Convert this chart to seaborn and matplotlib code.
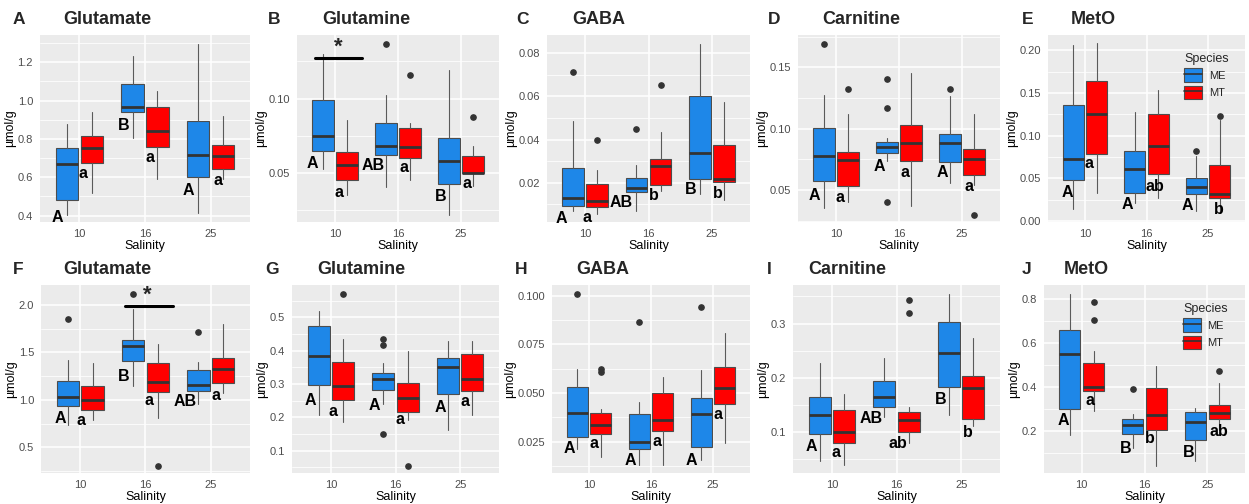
import numpy as np
import matplotlib
matplotlib.use('Agg')
import matplotlib.pyplot as plt
from matplotlib.patches import Patch
from matplotlib.lines import Line2D
import seaborn as sns

# categories
salinity = ['10', '16', '25']
species = ['ME', 'MT']
species_colors = ['#1E87E8', '#FF0000']

panel_letters = ['A', 'B', 'C', 'D', 'E', 'F', 'G', 'H', 'I', 'J']
panel_titles = ['Glutamate', 'Glutamine', 'GABA', 'Carnitine', 'MetO',
                'Glutamate', 'Glutamine', 'GABA', 'Carnitine', 'MetO']

# box stats, rows = ME10, MT10, ME16, MT16, ME25, MT25 ; [low, q1, median, q3, high]
glutamate_1 = [[0.405, 0.480, 0.667, 0.752, 0.876],
               [0.518, 0.676, 0.752, 0.813, 0.938],
               [0.805, 0.940, 0.969, 1.089, 1.231],
               [0.593, 0.756, 0.841, 0.969, 1.049],
               [0.416, 0.600, 0.718, 0.893, 1.295],
               [0.591, 0.643, 0.711, 0.766, 0.919]]
glutamine_1 = [[0.0529, 0.0647, 0.0750, 0.0993, 0.1299],
               [0.0350, 0.0451, 0.0554, 0.0641, 0.0859],
               [0.0406, 0.0621, 0.0683, 0.0835, 0.1025],
               [0.0451, 0.0603, 0.0672, 0.0801, 0.0839],
               [0.0221, 0.0426, 0.0578, 0.0737, 0.1188],
               [0.0413, 0.0500, 0.0500, 0.0616, 0.0681]]
gaba_1 = [[0.0067, 0.0092, 0.0131, 0.0267, 0.0488],
          [0.0054, 0.0087, 0.0115, 0.0195, 0.0261],
          [0.0069, 0.0158, 0.0175, 0.0224, 0.0284],
          [0.0161, 0.0191, 0.0277, 0.0308, 0.0437],
          [0.0149, 0.0217, 0.0339, 0.0603, 0.0842],
          [0.0121, 0.0205, 0.0217, 0.0376, 0.0576]]
carnitine_1 = [[0.0356, 0.0573, 0.0779, 0.1007, 0.1275],
               [0.0402, 0.0530, 0.0744, 0.0814, 0.1121],
               [0.0736, 0.0806, 0.0847, 0.0888, 0.0927],
               [0.0370, 0.0733, 0.0882, 0.1034, 0.1451],
               [0.0557, 0.0730, 0.0882, 0.0958, 0.1264],
               [0.0538, 0.0619, 0.0752, 0.0831, 0.1121]]
meto_1 = [[0.0148, 0.0479, 0.0732, 0.1362, 0.2062],
          [0.0331, 0.0790, 0.1257, 0.1646, 0.2082],
          [0.0214, 0.0335, 0.0607, 0.0817, 0.1284],
          [0.0276, 0.0549, 0.0875, 0.1249, 0.1537],
          [0.0117, 0.0323, 0.0401, 0.0506, 0.0763],
          [0.0090, 0.0276, 0.0315, 0.0661, 0.1179]]
glutamate_2 = [[0.732, 0.937, 1.032, 1.201, 1.419],
               [0.792, 0.891, 0.996, 1.148, 1.391],
               [1.144, 1.408, 1.570, 1.630, 1.954],
               [0.813, 1.085, 1.190, 1.391, 1.585],
               [0.961, 1.095, 1.155, 1.313, 1.401],
               [1.074, 1.173, 1.324, 1.437, 1.799]]
glutamine_2 = [[0.206, 0.296, 0.384, 0.473, 0.520],
               [0.186, 0.251, 0.293, 0.367, 0.434],
               [0.239, 0.281, 0.316, 0.334, 0.362],
               [0.191, 0.216, 0.259, 0.304, 0.400],
               [0.161, 0.269, 0.352, 0.377, 0.429],
               [0.207, 0.280, 0.316, 0.391, 0.429]]
gaba_2 = [[0.0211, 0.0274, 0.0398, 0.0531, 0.0621],
          [0.0171, 0.0288, 0.0336, 0.0399, 0.0420],
          [0.0128, 0.0212, 0.0248, 0.0391, 0.0453],
          [0.0128, 0.0303, 0.0360, 0.0502, 0.0583],
          [0.0154, 0.0223, 0.0391, 0.0475, 0.0620],
          [0.0245, 0.0442, 0.0526, 0.0634, 0.0810]]
carnitine_2 = [[0.048, 0.096, 0.132, 0.165, 0.227],
               [0.039, 0.080, 0.100, 0.141, 0.170],
               [0.128, 0.147, 0.164, 0.194, 0.236],
               [0.080, 0.101, 0.122, 0.138, 0.147],
               [0.131, 0.184, 0.245, 0.302, 0.355],
               [0.112, 0.125, 0.182, 0.204, 0.274]]
meto_2 = [[0.185, 0.303, 0.550, 0.662, 0.823],
          [0.291, 0.382, 0.402, 0.508, 0.565],
          [0.126, 0.186, 0.227, 0.258, 0.280],
          [0.045, 0.208, 0.273, 0.398, 0.495],
          [0.064, 0.162, 0.242, 0.288, 0.306],
          [0.205, 0.255, 0.285, 0.321, 0.420]]

# outliers, same order of boxes
glutamate_1_out = [[], [], [], [], [], []]
glutamine_1_out = [[], [], [0.1366], [0.1156], [], [0.0873]]
gaba_1_out = [[0.0714], [0.0400], [0.0449], [0.0654], [], []]
carnitine_1_out = [[0.169], [0.1327], [0.1408, 0.1172, 0.0400], [], [0.1324], [0.0300]]
meto_1_out = [[], [], [], [], [0.0821], [0.1230]]
glutamate_2_out = [[1.856], [], [2.116], [0.306], [1.715], []]
glutamine_2_out = [[], [0.569], [0.435, 0.416, 0.151], [0.055], [], []]
gaba_2_out = [[0.1007], [0.0624, 0.0607], [0.0866], [], [0.0943], []]
carnitine_2_out = [[], [], [], [0.344, 0.320], [], []]
meto_2_out = [[], [0.786, 0.705], [0.392], [], [], [0.474]]

# group letters
glutamate_1_grp = ['A', 'a', 'B', 'a', 'A', 'a']
glutamine_1_grp = ['A', 'a', 'AB', 'a', 'B', 'a']
gaba_1_grp = ['A', 'a', 'AB', 'b', 'B', 'b']
carnitine_1_grp = ['A', 'a', 'A', 'a', 'A', 'a']
meto_1_grp = ['A', 'a', 'A', 'ab', 'A', 'b']
glutamate_2_grp = ['A', 'a', 'B', 'a', 'AB', 'a']
glutamine_2_grp = ['A', 'a', 'A', 'a', 'A', 'a']
gaba_2_grp = ['A', 'a', 'A', 'a', 'A', 'a']
carnitine_2_grp = ['A', 'a', 'AB', 'ab', 'B', 'b']
meto_2_grp = ['A', 'a', 'B', 'b', 'B', 'ab']

# y tick labels
ticks_list = [['0.4', '0.6', '0.8', '1.0', '1.2'],
              ['0.05', '0.10'],
              ['0.02', '0.04', '0.06', '0.08'],
              ['0.05', '0.10', '0.15'],
              ['0.00', '0.05', '0.10', '0.15', '0.20'],
              ['0.5', '1.0', '1.5', '2.0'],
              ['0.1', '0.2', '0.3', '0.4', '0.5'],
              ['0.025', '0.050', '0.075', '0.100'],
              ['0.1', '0.2', '0.3'],
              ['0.2', '0.4', '0.6', '0.8']]

stats_all = [glutamate_1, glutamine_1, gaba_1, carnitine_1, meto_1,
             glutamate_2, glutamine_2, gaba_2, carnitine_2, meto_2]
out_all = [glutamate_1_out, glutamine_1_out, gaba_1_out, carnitine_1_out, meto_1_out,
           glutamate_2_out, glutamine_2_out, gaba_2_out, carnitine_2_out, meto_2_out]
grp_all = [glutamate_1_grp, glutamine_1_grp, gaba_1_grp, carnitine_1_grp, meto_1_grp,
           glutamate_2_grp, glutamine_2_grp, gaba_2_grp, carnitine_2_grp, meto_2_grp]

# layout (pixels) ---------------------------------------------------------
W, H = 1249, 504
ax_px = [(40, 250, 35, 222), (297, 499, 35, 222), (547, 750, 35, 222),
         (798, 1000, 35, 222), (1048, 1245, 35, 222),
         (41, 250, 285, 473), (292, 499, 285, 473), (552, 750, 285, 473),
         (793, 1000, 285, 473), (1044, 1245, 285, 473)]
ylims = [(0.367, 1.342), (0.0172, 0.1426), (0.0018, 0.0884), (0.024, 0.1763),
         (-0.001, 0.218), (0.229, 2.211), (0.033, 0.597), (0.0089, 0.1055),
         (0.025, 0.371), (0.011, 0.864)]
letter_px = [13, 268, 516, 768, 1022, 13, 265, 515, 767, 1022]
title_px = [63, 322, 572, 822, 1071, 63, 317, 576, 808, 1064]

grp_x = [[0.67, 1.06, 1.68, 2.07, 2.66, 3.11],
         [0.65, 1.06, 1.60, 2.10, 2.67, 3.10],
         [0.62, 1.03, 1.57, 2.08, 2.67, 3.09],
         [0.66, 1.06, 1.69, 2.09, 2.69, 3.11],
         [0.72, 1.07, 1.69, 2.14, 2.66, 3.17],
         [0.69, 1.01, 1.67, 2.05, 2.61, 3.08],
         [0.68, 1.03, 1.68, 2.07, 2.69, 3.08],
         [0.68, 1.08, 1.67, 2.09, 2.65, 3.08],
         [0.69, 1.06, 1.61, 2.02, 2.68, 3.11],
         [0.71, 1.13, 1.70, 2.09, 2.70, 3.18]]
grp_y = [[0.39, 0.62, 0.87, 0.705, 0.53, 0.584],
         [0.0567, 0.0373, 0.0551, 0.054, 0.034, 0.0433],
         [0.0034, 0.0038, 0.0106, 0.0141, 0.0168, 0.015],
         [0.0457, 0.0443, 0.0695, 0.0641, 0.0641, 0.0533],
         [0.033, 0.068, 0.0198, 0.040, 0.0179, 0.014],
         [0.803, 0.785, 1.25, 0.989, 0.979, 1.049],
         [0.251, 0.219, 0.236, 0.194, 0.231, 0.249],
         [0.0214, 0.024, 0.0154, 0.0253, 0.0154, 0.0391],
         [0.073, 0.062, 0.125, 0.080, 0.160, 0.099],
         [0.250, 0.341, 0.121, 0.167, 0.106, 0.200]]

sns.set_theme(style='darkgrid')
plt.rcParams['font.family'] = ['Liberation Sans', 'DejaVu Sans']

fig = plt.figure(figsize=(W / 100, H / 100), dpi=100)

edge = '#4D4D4D'
for p in range(10):
    l, r, t, b = ax_px[p]
    ax = fig.add_axes([l / W, 1 - b / H, (r - l) / W, (b - t) / H])
    ax.set_facecolor('#EBEBEB')

    bstats, pos = [], []
    for j in range(3):
        for k in range(2):
            lo, q1, med, q3, hi = stats_all[p][2 * j + k]
            bstats.append(dict(whislo=lo, q1=q1, med=med, q3=q3, whishi=hi,
                               fliers=out_all[p][2 * j + k]))
            pos.append(j + 1 + (-0.19 if k == 0 else 0.19))
    bp = ax.bxp(bstats, positions=pos, widths=0.34, patch_artist=True,
                showcaps=False,
                boxprops=dict(edgecolor=edge, linewidth=0.8),
                whiskerprops=dict(color='#5A5A5A', linewidth=0.8),
                medianprops=dict(color='#333333', linewidth=2.0),
                flierprops=dict(marker='o', markerfacecolor='#333333',
                                markeredgecolor='#333333', markersize=3.8))
    for i, patch in enumerate(bp['boxes']):
        patch.set_facecolor(species_colors[i % 2])

    # group letters
    for i in range(6):
        ax.text(grp_x[p][i], grp_y[p][i], grp_all[p][i], ha='center', va='center',
                fontsize=11.5, fontweight='bold', color='black')

    ticks = [float(s) for s in ticks_list[p]]
    ax.set_yticks(ticks)
    ax.set_yticklabels(ticks_list[p])
    step = ticks[1] - ticks[0]
    ax.set_yticks(np.arange(ticks[0] - step / 2, ticks[-1] + step, step), minor=True)
    ax.set_xticks([1, 2, 3])
    ax.set_xticklabels(salinity)
    ax.set_xlim(0.4, 3.6)
    ax.set_ylim(*ylims[p])

    ax.set_axisbelow(True)
    ax.grid(which='major', color='white', linewidth=1.1)
    ax.grid(which='minor', axis='y', color='white', linewidth=0.55)
    for s in ax.spines.values():
        s.set_visible(False)
    ax.tick_params(which='major', length=3, width=0.8, color='#333333',
                   labelsize=8, labelcolor='#4D4D4D', pad=2)
    ax.tick_params(which='minor', length=0)
    ax.set_xlabel('Salinity', fontsize=9, color='black', labelpad=0.5)
    ax.set_ylabel('µmol/g', fontsize=9, color='black', labelpad=1)

    # letter and title
    yc = 1 - (20 if p < 5 else 270) / H
    fig.text(letter_px[p] / W, yc, panel_letters[p], fontsize=12.5,
             fontweight='bold', va='center', ha='left')
    fig.text(title_px[p] / W, yc, panel_titles[p], fontsize=13,
             fontweight='bold', va='center', ha='left')

    if p == 1:
        ax.plot([0.69, 1.43], [0.127, 0.127], color='black', linewidth=2.2)
        ax.text(1.05, 0.1345, '*', fontsize=16, fontweight='bold', ha='center', va='center')
    if p == 5:
        ax.plot([1.68, 2.42], [1.986, 1.986], color='black', linewidth=2.2)
        ax.text(2.02, 2.10, '*', fontsize=16, fontweight='bold', ha='center', va='center')

    if p in (4, 9):
        handles = [(Patch(facecolor=c, edgecolor=edge, linewidth=0.8),
                    Line2D([], [], color='#333333', linewidth=1.2)) for c in species_colors]
        leg = ax.legend(handles, species, title='Species', loc='upper left',
                        bbox_to_anchor=(0.67, 0.93), frameon=False, fontsize=8,
                        title_fontsize=9, handlelength=1.6, handleheight=1.5,
                        labelspacing=0.35, handletextpad=0.6, borderaxespad=0)
        leg._legend_box.align = 'left'

fig.savefig('out.png', dpi=100)
